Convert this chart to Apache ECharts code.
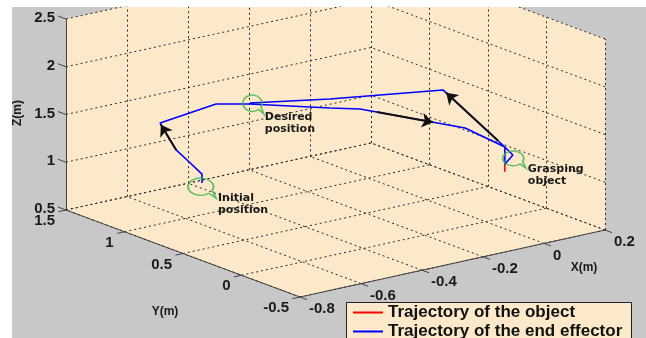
<!DOCTYPE html>
<html>
<head>
<meta charset="utf-8">
<script src="https://cdn.jsdelivr.net/npm/echarts@6/dist/echarts.min.js"></script>
<style>
  html, body { margin: 0; padding: 0; background: #fff; }
  #main { width: 646px; height: 338px; }
</style>
</head>
<body>
<div id="main"></div>
<script>
// axis ticks (m)
const xTicks = [-0.8, -0.6, -0.4, -0.2, 0, 0.2];
const yTicks = [-0.5, 0, 0.5, 1, 1.5];
const zTicks = [0.5, 1, 1.5, 2, 2.5];

// end effector trajectory
const effX = [-0.582, -0.582, -0.591, -0.600, -0.574, -0.406, -0.363, -0.220, -0.153, 0.027, 0.136, 0.136, 0.161, 0.136, 0.060, -0.197, -0.357];
const effY = [0.906, 0.906, 1.010, 1.080, 1.285, 1.245, 1.068, 0.756, 0.674, 0.245, 0.189, 0.189, 0.186, 0.189, 0.520, 0.817, 1.082];
const effZ = [0.90, 0.994, 1.10, 1.18, 1.35, 1.45, 1.50, 1.50, 1.48, 1.35, 1.10, 0.92, 1.00, 1.10, 1.60, 1.55, 1.50];

// object trajectory
const objX = [0.136, 0.136];
const objY = [0.189, 0.189];
const objZ = [0.92, 0.84];

// direction arrows (start -> end)
const arrowFrom = [[-0.600, 1.080, 1.18], [-0.124, 0.605, 1.459], [0.127, 0.226, 1.157]];
const arrowTo = [[-0.576, 1.273, 1.34], [-0.028, 0.376, 1.39], [0.064, 0.503, 1.575]];

// annotations
const notes = ['Initial\nposition', 'Desired\nposition', 'Grasping\nobject'];
const noteX = [-0.582, -0.363, 0.161];
const noteY = [0.906, 1.068, 0.186];
const noteZ = [0.90, 1.50, 1.00];

const seriesNames = ['Trajectory of the object', 'Trajectory of the end effector'];

const xMin = xTicks[0], xMax = xTicks[xTicks.length - 1];
const yMin = yTicks[0], yMax = yTicks[yTicks.length - 1];
const zMin = zTicks[0], zMax = zTicks[zTicks.length - 1];

// fixed matlab-like view: screen offsets per metre
function proj(x, y, z) {
  const u = x - xMin, v = y - yMin, w = z - zMin;
  return [300 + u * 305 - v * 117, 297 - u * 67 - v * 43.5 - w * 95.5];
}

const BEIGE = '#fce9c9';
const GREEN = '#3cb44b';

// grid segments
const gridSegs = [];
xTicks.forEach(x => {
  gridSegs.push([proj(x, yMin, zMin), proj(x, yMax, zMin)]);
  gridSegs.push([proj(x, yMax, zMin), proj(x, yMax, zMax)]);
});
yTicks.forEach(y => {
  gridSegs.push([proj(xMin, y, zMin), proj(xMax, y, zMin)]);
  gridSegs.push([proj(xMax, y, zMin), proj(xMax, y, zMax)]);
});
zTicks.forEach(z => {
  gridSegs.push([proj(xMin, yMax, z), proj(xMax, yMax, z)]);
  gridSegs.push([proj(xMax, yMin, z), proj(xMax, yMax, z)]);
});

const axisSegs = [
  [proj(xMin, yMax, zMin), proj(xMin, yMax, zMax)],
  [proj(xMin, yMin, zMin), proj(xMin, yMax, zMin)],
  [proj(xMin, yMin, zMin), proj(xMax, yMin, zMin)]
];
zTicks.forEach(z => axisSegs.push([proj(xMin, yMax, z), proj(xMin, yMax + 0.07, z)]));
yTicks.forEach(y => axisSegs.push([proj(xMin, y, zMin), proj(xMin - 0.025, y, zMin)]));
xTicks.forEach(x => axisSegs.push([proj(x, yMin, zMin), proj(x, yMin - 0.06, zMin)]));

const faces = [
  [[xMin, yMin, zMin], [xMax, yMin, zMin], [xMax, yMax, zMin], [xMin, yMax, zMin]],
  [[xMin, yMax, zMin], [xMax, yMax, zMin], [xMax, yMax, zMax], [xMin, yMax, zMax]],
  [[xMax, yMin, zMin], [xMax, yMax, zMin], [xMax, yMax, zMax], [xMax, yMin, zMax]]
];

function textSeries(points, labels, o) {
  return {
    type: 'custom', coordinateSystem: 'cartesian2d', silent: true, z: 6, clip: false,
    data: points,
    renderItem: function (params, api) {
      const p = api.coord([api.value(0), api.value(1)]);
      const s = o.shift ? o.shift[params.dataIndex] : [o.dx, o.dy];
      return {
        type: 'text', x: p[0] + s[0], y: p[1] + s[1],
        style: {
          text: labels[params.dataIndex], align: o.align, verticalAlign: o.va,
          font: o.font, fill: '#1a1a1a', lineHeight: o.lh
        }
      };
    }
  };
}

const fmt = v => String(v);
const tickFont = 'bold 15px "Liberation Sans"';

const bubblePath = 'path://M20.21,14.63A12,8,0,1,1,23.38,11.88L27,19Z';
const bubbleSize = [[28, 20], [21, 19], [23, 17]];
const bubbleShift = [[0, 5], [3.5, 0.5], [1.5, 4.5]];
const noteShift = [[16, 9], [15, 7], [15, 8]];

const legendBase = {
  orient: 'horizontal', left: 347,
  itemWidth: 30, itemHeight: 2, itemGap: 0,
  padding: [0, 6, 0, 6], z: 8,
  selectedMode: false,
  textStyle: { fontFamily: 'Liberation Sans', fontWeight: 'bold', fontSize: 17, color: '#111', lineHeight: 19 }
};

const chart = echarts.init(document.getElementById('main'));
chart.setOption({
  animation: false,
  backgroundColor: '#fff',
  grid: { left: 12, top: 7, right: 0, bottom: 0, show: true, backgroundColor: '#c8c8c8', borderWidth: 0 },
  xAxis: { type: 'value', min: 12, max: 646, show: false },
  yAxis: { type: 'value', min: 7, max: 338, inverse: true, show: false },
  legend: [
    Object.assign({}, legendBase, { top: 303, data: [{ name: seriesNames[0], icon: 'rect' }] }),
    Object.assign({}, legendBase, { top: 322, data: [{ name: seriesNames[1], icon: 'rect' }] })
  ],
  graphic: [
    { type: 'rect', z: 7, shape: { x: 346.5, y: 302.5, width: 285, height: 50 },
      style: { fill: BEIGE, stroke: '#222', lineWidth: 1 } },
    { type: 'text', x: 18, y: 113, rotation: Math.PI / 2, z: 10,
      style: { text: 'Z(m)', font: 'bold 12px "Liberation Sans"', fill: '#1a1a1a', align: 'center', verticalAlign: 'middle' } },
    { type: 'text', x: 165, y: 312, z: 10,
      style: { text: 'Y(m)', font: 'bold 12px "Liberation Sans"', fill: '#1a1a1a', align: 'center', verticalAlign: 'middle' } },
    { type: 'text', x: 584, y: 268, z: 10,
      style: { text: 'X(m)', font: 'bold 12px "Liberation Sans"', fill: '#1a1a1a', align: 'center', verticalAlign: 'middle' } }
  ],
  series: [
    {
      type: 'custom', coordinateSystem: 'cartesian2d', silent: true, z: 0, clip: true,
      data: faces.map(f => proj(...f[0])),
      renderItem: function (params, api) {
        const pts = faces[params.dataIndex].map(c => api.coord(proj(...c)));
        return { type: 'polygon', shape: { points: pts }, style: { fill: BEIGE, stroke: null } };
      }
    },
    {
      type: 'lines', coordinateSystem: 'cartesian2d', silent: true, z: 1,
      data: gridSegs.map(s => ({ coords: s })),
      lineStyle: { color: '#2a2a2a', width: 1, type: [2, 3], opacity: 1 }
    },
    {
      type: 'lines', coordinateSystem: 'cartesian2d', silent: true, z: 2,
      data: axisSegs.map(s => ({ coords: s })),
      lineStyle: { color: '#444', width: 1, opacity: 1 }
    },
    {
      name: seriesNames[0], type: 'line', z: 3,
      data: objX.map((x, i) => proj(x, objY[i], objZ[i])),
      showSymbol: false, color: '#ff0000',
      lineStyle: { color: '#ff0000', width: 1.6 }
    },
    {
      name: seriesNames[1], type: 'line', z: 3,
      data: effX.map((x, i) => proj(x, effY[i], effZ[i])),
      showSymbol: false, color: '#0000ff',
      lineStyle: { color: '#0000ff', width: 1.6 }
    },
    {
      type: 'lines', coordinateSystem: 'cartesian2d', silent: true, z: 4,
      data: arrowFrom.map((a, i) => ({ coords: [proj(...a), proj(...arrowTo[i])] })),
      symbol: ['none', 'arrow'], symbolSize: 11,
      lineStyle: { color: '#111', width: 2, opacity: 1 },
      itemStyle: { color: '#111' }
    },
    {
      type: 'scatter', z: 4, silent: true,
      data: notes.map((n, i) => ({
        value: proj(noteX[i], noteY[i], noteZ[i]),
        symbolSize: bubbleSize[i], symbolOffset: bubbleShift[i]
      })),
      symbol: bubblePath,
      itemStyle: { color: 'rgba(0,0,0,0)', borderColor: GREEN, borderWidth: 1.6 }
    },
    textSeries(notes.map((n, i) => proj(noteX[i], noteY[i], noteZ[i])), notes,
      { shift: noteShift, align: 'left', va: 'top', font: 'bold 11px "DejaVu Sans"', lh: 12 }),
    textSeries(zTicks.map(z => proj(xMin, yMax, z)), zTicks.map(fmt),
      { dx: -11, dy: -1, align: 'right', va: 'middle', font: tickFont, lh: 16 }),
    textSeries(yTicks.map(y => proj(xMin, y, zMin)), yTicks.map(fmt),
      { dx: -11, dy: 11, align: 'right', va: 'middle', font: tickFont, lh: 16 }),
    textSeries(xTicks.map(x => proj(x, yMin, zMin)), xTicks.map(fmt),
      { dx: 9, dy: 12, align: 'left', va: 'middle', font: tickFont, lh: 16 })
  ]
});
</script>
</body>
</html>
